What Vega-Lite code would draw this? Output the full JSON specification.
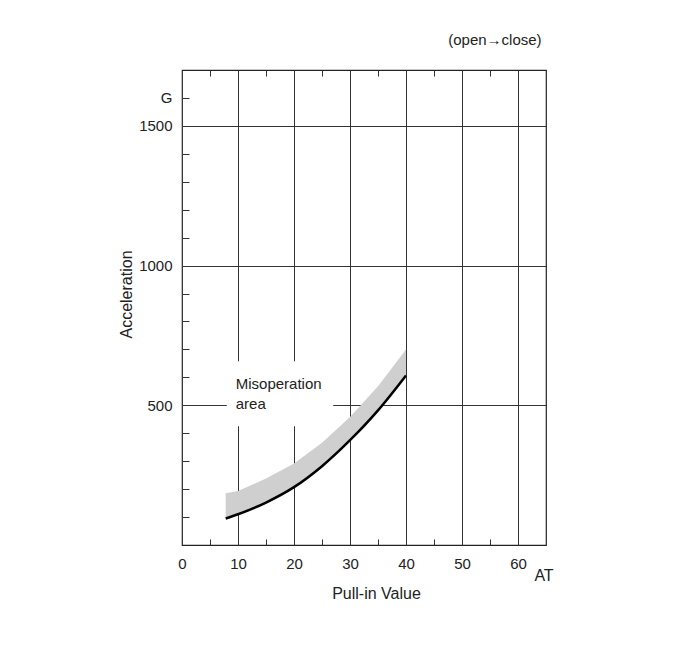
{
  "$schema": "https://vega.github.io/schema/vega-lite/v6.json",
  "width": 364,
  "height": 475,
  "autosize": {"type": "none"},
  "padding": {"left": 182, "top": 70, "right": 148, "bottom": 112},
  "background": "white",
  "config": {
    "view": {"stroke": "#222", "strokeWidth": 1.2},
    "font": "Liberation Sans",
    "axis": {
      "labelFont": "Liberation Sans",
      "titleFont": "Liberation Sans",
      "labelFontSize": 15,
      "titleFontSize": 16,
      "titleFontWeight": "normal",
      "labelColor": "#222",
      "titleColor": "#222",
      "domain": false,
      "tickColor": "#333",
      "gridColor": "#333",
      "tickWidth": 1,
      "gridWidth": 1,
      "labelOverlap": false,
      "labelFlush": false,
      "labelBound": false
    }
  },
  "title": {
    "text": "(open→close)",
    "anchor": "end",
    "dx": -12,
    "offset": 22,
    "fontSize": 15,
    "fontWeight": "normal",
    "color": "#222",
    "font": "Liberation Sans"
  },
  "datasets": {
    "curve": [
      {"x": 7.8, "y": 95},
      {"x": 10, "y": 110},
      {"x": 15, "y": 152},
      {"x": 20, "y": 207},
      {"x": 25, "y": 282},
      {"x": 30, "y": 375},
      {"x": 35, "y": 482},
      {"x": 40, "y": 607}
    ],
    "band": [
      {"x": 7.8, "lo": 95, "hi": 185},
      {"x": 10, "lo": 110, "hi": 193},
      {"x": 15, "lo": 152, "hi": 238},
      {"x": 20, "lo": 207, "hi": 292},
      {"x": 25, "lo": 282, "hi": 366},
      {"x": 30, "lo": 375, "hi": 458},
      {"x": 35, "lo": 482, "hi": 568},
      {"x": 40, "lo": 607, "hi": 700}
    ],
    "box": [
      {"x": 8, "x2": 27, "y": 425, "y2": 658}
    ],
    "notes": [
      {"x": 9.6, "y": 560, "t": "Misoperation"},
      {"x": 9.6, "y": 485, "t": "area"}
    ],
    "unit": [
      {"x": 65, "y": 0, "t": "AT"}
    ]
  },
  "layer": [
    {
      "data": {"name": "box"},
      "mark": {"type": "rect", "color": "white"},
      "encoding": {
        "x": {
          "field": "x", "type": "quantitative",
          "scale": {"domain": [0, 65], "nice": false, "zero": false},
          "axis": {
            "orient": "top",
            "values": [5, 15, 25, 35, 45, 55],
            "tickCount": 30,
            "labels": false,
            "grid": false,
            "tickSize": -6,
            "title": null
          }
        },
        "x2": {"field": "x2"},
        "y": {
          "field": "y", "type": "quantitative",
          "scale": {"domain": [0, 1700], "nice": false, "zero": false},
          "axis": {
            "values": [100, 200, 300, 400, 500, 600, 700, 800, 900, 1000, 1100, 1200, 1300, 1400, 1500, 1600],
            "tickCount": 30,
            "format": "d",
            "labelExpr": "datum.value == 1600 ? 'G' : (datum.value % 500 === 0 ? datum.label : '')",
            "tickSize": -7,
            "labelPadding": 17,
            "grid": true,
            "gridOpacity": {"condition": {"test": "datum.value % 500 === 0 && datum.value < 1600", "value": 1}, "value": 0},
            "title": "Acceleration",
            "titleAngle": -90,
            "titleX": -56,
            "titleY": 224,
            "titleAlign": "center",
            "titleBaseline": "middle"
          }
        },
        "y2": {"field": "y2"}
      }
    },
    {
      "data": {"name": "band"},
      "mark": {"type": "area", "color": "#cfcfcf", "opacity": 1},
      "encoding": {
        "x": {
          "field": "x", "type": "quantitative",
          "axis": {
            "orient": "bottom",
            "values": [0, 5, 10, 15, 20, 25, 30, 35, 40, 45, 50, 55, 60],
            "tickCount": 30,
            "format": "d",
            "labelExpr": "datum.value % 10 === 0 ? datum.label : ''",
            "tickSize": -6,
            "labelPadding": 17,
            "grid": true,
            "gridOpacity": {"condition": {"test": "datum.value % 10 === 0 && datum.value > 0", "value": 1}, "value": 0},
            "title": "Pull-in Value",
            "titleX": 194,
            "titleY": 48,
            "titleAlign": "center",
            "titleBaseline": "middle"
          }
        },
        "y": {"field": "lo", "type": "quantitative"},
        "y2": {"field": "hi"}
      }
    },
    {
      "data": {"name": "curve"},
      "mark": {"type": "line", "color": "black", "strokeWidth": 2.5, "interpolate": "monotone"},
      "encoding": {
        "x": {"field": "x", "type": "quantitative", "axis": null},
        "y": {"field": "y", "type": "quantitative"}
      }
    },
    {
      "data": {"name": "notes"},
      "mark": {"type": "text", "align": "left", "baseline": "alphabetic", "fontSize": 15, "color": "#222", "font": "Liberation Sans"},
      "encoding": {
        "x": {"field": "x", "type": "quantitative", "axis": null},
        "y": {"field": "y", "type": "quantitative"},
        "text": {"field": "t"}
      }
    },
    {
      "data": {"name": "unit"},
      "mark": {"type": "text", "align": "center", "baseline": "middle", "dy": 31, "dx": -2, "fontSize": 16, "color": "#222", "font": "Liberation Sans"},
      "encoding": {
        "x": {"field": "x", "type": "quantitative", "axis": null},
        "y": {"field": "y", "type": "quantitative"},
        "text": {"field": "t"}
      }
    }
  ],
  "resolve": {"axis": {"x": "independent"}}
}
